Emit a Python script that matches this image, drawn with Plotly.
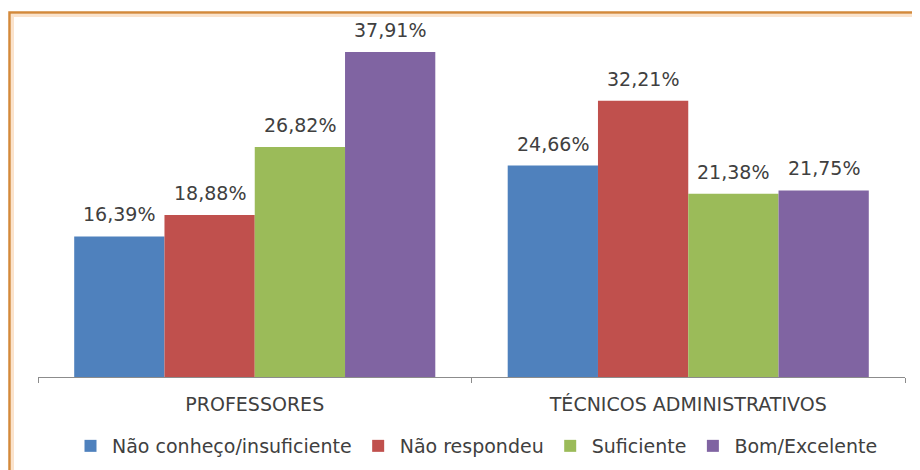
import plotly.graph_objects as go

categories = ["PROFESSORES", "TÉCNICOS ADMINISTRATIVOS"]
series_names = ["Não conheço/insuficiente", "Não respondeu", "Suficiente", "Bom/Excelente"]
nao_conheco = [16.39, 24.66]
nao_respondeu = [18.88, 32.21]
suficiente = [26.82, 21.38]
bom_excelente = [37.91, 21.75]
colors = ["#4F81BD", "#C0504D", "#9BBB59", "#8064A2"]

OFF = 8  # default page body margin
W, H = 920 - OFF, 470 - OFF
L, R, T, B = 38 - OFF, 15, 34 - OFF, 93
pw, ph = W - L - R, H - T - B
BARGAP = 0.167
FONT = "DejaVu Sans"
TXT = "#404040"

def px(x):
    return (x - OFF - L) / pw

def py(y):
    return (H - B - (y - OFF)) / ph

def fmt(v):
    return f"{v:.2f}".replace(".", ",") + "%"

all_series = [nao_conheco, nao_respondeu, suficiente, bom_excelente]
n = len(all_series)
bar_px = pw / len(categories) * (1 - BARGAP) / n

fig = go.Figure()
annotations = []
for i, (name, vals, col) in enumerate(zip(series_names, all_series, colors)):
    fig.add_trace(go.Bar(
        x=categories, y=vals, name=name,
        marker=dict(color=col, line=dict(width=0)),
    ))
    for c, v in zip(categories, vals):
        annotations.append(dict(
            x=c, y=v, xref="x", yref="y", text=fmt(v), showarrow=False,
            xanchor="center", yanchor="bottom", xshift=(i - (n - 1) / 2) * bar_px, yshift=9,
            font=dict(family=FONT, size=19, color=TXT),
        ))

fig.update_layout(
    width=W, height=H, autosize=False,
    margin=dict(l=L, r=R, t=T, b=B, autoexpand=False),
    paper_bgcolor="white", plot_bgcolor="white",
    barmode="group", bargap=BARGAP, bargroupgap=0,
    font=dict(family=FONT, color=TXT),
    showlegend=True,
    legend=dict(orientation="h", xanchor="center", x=px(476), yanchor="middle", y=py(446),
                font=dict(family=FONT, size=19, color=TXT), itemwidth=33,
                bgcolor="rgba(0,0,0,0)", itemclick=False, tracegroupgap=0),
    xaxis=dict(showline=True, linecolor="#8C8C8C", linewidth=1, ticks="outside", ticklen=5,
               tickcolor="#8C8C8C", tickson="boundaries", showgrid=False, automargin=False,
               tickfont=dict(family=FONT, size=19, color=TXT),
               ticklabelstandoff=10),
    yaxis=dict(visible=False, range=[0, 40], showgrid=False, zeroline=False, automargin=False),
    annotations=annotations,
    shapes=[
        dict(type="rect", xref="paper", yref="paper", x0=px(12.5), x1=px(935), y0=py(480), y1=py(15.5),
             line=dict(color="#FBE3CC", width=3), fillcolor="rgba(0,0,0,0)", layer="below"),
        dict(type="rect", xref="paper", yref="paper", x0=px(9.5), x1=px(935), y0=py(480), y1=py(12.5),
             line=dict(color="#D4893A", width=2.5), fillcolor="rgba(0,0,0,0)", layer="below"),
    ],
)

fig.write_html("out.html", config={"displayModeBar": False})
